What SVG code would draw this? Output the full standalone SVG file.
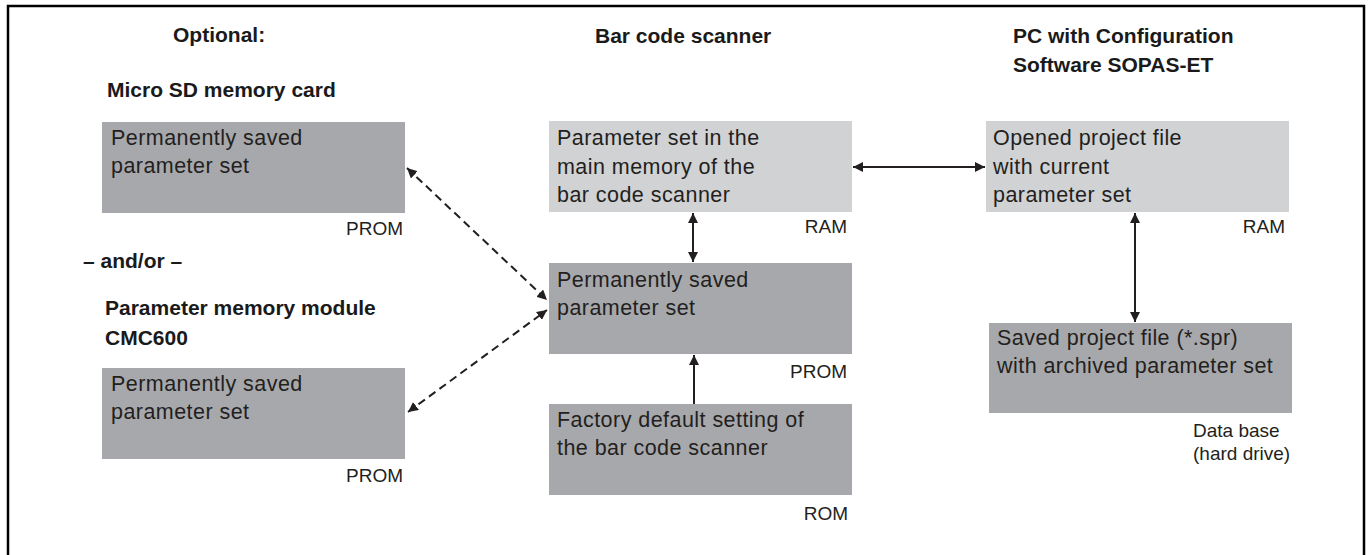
<svg xmlns="http://www.w3.org/2000/svg" width="1371" height="555" viewBox="0 0 1371 555">
<defs>
<style>
.title{font-family:"Liberation Sans",Arial,sans-serif;font-weight:bold;font-size:21px;fill:#1a1a1a}
.body{font-family:"Liberation Sans",Arial,sans-serif;font-size:21.5px;fill:#231f20;letter-spacing:0.45px}
.lbl{font-family:"Liberation Sans",Arial,sans-serif;font-size:19px;fill:#231f20}
.dark{fill:#a7a8ab}
.light{fill:#d1d2d4}
.conn{stroke:#231f20;stroke-width:2;fill:none}
.dash{stroke:#231f20;stroke-width:2;fill:none;stroke-dasharray:8 5}
</style>
<marker id="ah" viewBox="0 0 10 10" refX="10" refY="5" markerWidth="10" markerHeight="10" markerUnits="userSpaceOnUse" orient="auto-start-reverse">
<path d="M0,0 L10,5 L0,10 z" fill="#231f20"/>
</marker>
</defs>
<rect width="1371" height="555" fill="#ffffff"/>
<rect x="8" y="6" width="1356" height="560" fill="none" stroke="#000" stroke-width="2.5"/>
<g id="headings">
<text class="title" x="173" y="42">Optional:</text>
<text class="title" x="595" y="43">Bar code scanner</text>
<text class="title" x="1013" y="43">PC with Configuration</text>
<text class="title" x="1013" y="72">Software SOPAS-ET</text>
<text class="title" x="107" y="97">Micro SD memory card</text>
<text class="title" x="83" y="268">– and/or –</text>
<text class="title" x="105" y="315">Parameter memory module</text>
<text class="title" x="105" y="345">CMC600</text>
</g>
<g id="sd">
<rect class="dark" x="102" y="122" width="303" height="91"/>
<text class="body" x="111" y="145">Permanently saved</text>
<text class="body" x="111" y="173">parameter set</text>
<text class="lbl" x="403" y="235" text-anchor="end">PROM</text>
</g>
<g id="cmc">
<rect class="dark" x="102" y="368" width="303" height="91"/>
<text class="body" x="111" y="391">Permanently saved</text>
<text class="body" x="111" y="419">parameter set</text>
<text class="lbl" x="403" y="482" text-anchor="end">PROM</text>
</g>
<g id="ram">
<rect class="light" x="549" y="121" width="303" height="91"/>
<text class="body" x="557" y="145">Parameter set in the</text>
<text class="body" x="557" y="174">main memory of the</text>
<text class="body" x="557" y="202">bar code scanner</text>
<text class="lbl" x="847" y="233" text-anchor="end">RAM</text>
</g>
<g id="prom">
<rect class="dark" x="549" y="263" width="303" height="91"/>
<text class="body" x="557" y="287">Permanently saved</text>
<text class="body" x="557" y="315">parameter set</text>
<text class="lbl" x="847" y="378" text-anchor="end">PROM</text>
</g>
<g id="rom">
<rect class="dark" x="549" y="404" width="303" height="91"/>
<text class="body" x="557" y="427">Factory default setting of</text>
<text class="body" x="557" y="455">the bar code scanner</text>
<text class="lbl" x="848" y="520" text-anchor="end">ROM</text>
</g>
<g id="opened">
<rect class="light" x="986" y="121" width="303" height="91"/>
<text class="body" x="993" y="145">Opened project file</text>
<text class="body" x="993" y="174">with current</text>
<text class="body" x="993" y="202">parameter set</text>
<text class="lbl" x="1285" y="233" text-anchor="end">RAM</text>
</g>
<g id="saved">
<rect class="dark" x="989" y="323" width="303" height="90"/>
<text class="body" x="997" y="345">Saved project file (*.spr)</text>
<text class="body" x="997" y="373">with archived parameter set</text>
<text class="lbl" x="1193" y="437">Data base</text>
<text class="lbl" x="1193" y="460">(hard drive)</text>
</g>
<g id="connectors">
<line class="conn" x1="693" y1="213" x2="693" y2="262" marker-start="url(#ah)" marker-end="url(#ah)"/>
<line class="conn" x1="694" y1="404" x2="694" y2="355" marker-end="url(#ah)"/>
<line class="conn" x1="853" y1="167" x2="985" y2="167" marker-start="url(#ah)" marker-end="url(#ah)"/>
<line class="conn" x1="1135" y1="213" x2="1135" y2="322" marker-start="url(#ah)" marker-end="url(#ah)"/>
<line class="dash" x1="407" y1="168" x2="547" y2="300" marker-start="url(#ah)" marker-end="url(#ah)"/>
<line class="dash" x1="408" y1="412" x2="547" y2="310" marker-start="url(#ah)" marker-end="url(#ah)"/>
</g>
</svg>
